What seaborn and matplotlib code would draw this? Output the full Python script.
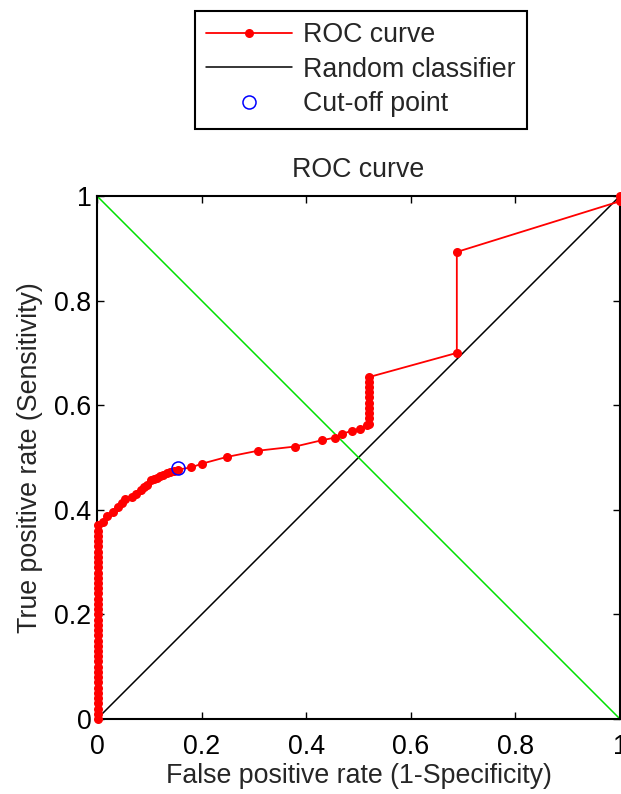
import matplotlib
matplotlib.use("Agg")
import matplotlib.pyplot as plt
import seaborn as sns
import pandas as pd

# ROC curve operating points (false positive rate, true positive rate)
roc_fpr = [
    0.002, 0.002, 0.002, 0.002, 0.002, 0.002, 0.002, 0.002, 0.002, 0.002,
    0.002, 0.002, 0.002, 0.002, 0.002, 0.002, 0.002, 0.002, 0.002, 0.002,
    0.002, 0.002, 0.002, 0.002, 0.002, 0.002, 0.002, 0.002, 0.002, 0.002,
    0.002, 0.002, 0.002, 0.002, 0.002, 0.002, 0.002, 0.002,
    0.012, 0.020, 0.031, 0.041, 0.047, 0.054, 0.066, 0.075, 0.085, 0.090,
    0.095, 0.104, 0.109, 0.114, 0.120, 0.127, 0.133, 0.140, 0.147, 0.155,
    0.180, 0.200, 0.248, 0.308, 0.379, 0.430, 0.455, 0.468, 0.487, 0.503,
    0.516, 0.521, 0.521, 0.521, 0.521, 0.521, 0.521, 0.521, 0.521, 0.521,
    0.521, 0.688, 0.688, 1.000, 1.000,
]
roc_tpr = [
    0.000, 0.010, 0.020, 0.030, 0.040, 0.050, 0.060, 0.070, 0.080, 0.090,
    0.100, 0.110, 0.120, 0.130, 0.140, 0.150, 0.160, 0.170, 0.180, 0.190,
    0.200, 0.210, 0.220, 0.230, 0.240, 0.250, 0.260, 0.270, 0.280, 0.290,
    0.300, 0.310, 0.320, 0.330, 0.340, 0.350, 0.360, 0.371,
    0.377, 0.388, 0.396, 0.406, 0.413, 0.421, 0.425, 0.430, 0.438, 0.443,
    0.447, 0.457, 0.459, 0.461, 0.464, 0.467, 0.470, 0.473, 0.475, 0.477,
    0.481, 0.488, 0.501, 0.513, 0.521, 0.533, 0.538, 0.545, 0.551, 0.555,
    0.562, 0.565, 0.575, 0.585, 0.595, 0.605, 0.615, 0.625, 0.635, 0.645,
    0.654, 0.700, 0.893, 0.990, 1.000,
]

# reference lines
diag_x = [0, 1]
diag_y = [0, 1]
anti_y = [1, 0]

# optimal cut-off
cut_fpr = [0.155]
cut_tpr = [0.479]

tick_vals = [0, 0.2, 0.4, 0.6, 0.8, 1]
tick_labels = ["0", "0.2", "0.4", "0.6", "0.8", "1"]

sns.set_theme(style="white")
plt.rcParams["font.family"] = ["Liberation Sans", "DejaVu Sans"]
FS = 19.3

fig = plt.figure(figsize=(6.21, 7.94), dpi=100)
ax = fig.add_axes([97 / 621, 75 / 794, 523 / 621, 523 / 794])

roc = pd.DataFrame({"fpr": roc_fpr, "tpr": roc_tpr})
sns.lineplot(data=roc, x="fpr", y="tpr", sort=False, estimator=None, ax=ax,
             color="red", linewidth=1.3, marker="o", markersize=6.5,
             markeredgewidth=0, clip_on=False, zorder=3)
sns.lineplot(x=diag_x, y=diag_y, ax=ax, color="black", linewidth=1.1, zorder=2)
sns.lineplot(x=diag_x, y=anti_y, ax=ax, color="#00e000", linewidth=1.1, zorder=2)
sns.lineplot(x=cut_fpr, y=cut_tpr, ax=ax, marker="o", markersize=9.4,
             markerfacecolor="none", markeredgecolor="blue",
             markeredgewidth=1.1, linestyle="none", zorder=4)

ax.set_xlim(0, 1)
ax.set_ylim(0, 1)
ax.set_xticks(tick_vals)
ax.set_xticklabels(tick_labels)
ax.set_yticks(tick_vals)
ax.set_yticklabels(tick_labels)
ax.tick_params(direction="in", top=True, right=True, bottom=True, left=True,
               length=5, width=1, labelsize=FS, colors="black")
ax.tick_params(axis="x", pad=11)
ax.tick_params(axis="y", pad=4)
for sp in ax.spines.values():
    sp.set_color("black")
    sp.set_linewidth(1.5)

ax.set_xlabel("False positive rate (1-Specificity)", fontsize=FS, labelpad=2)
ax.set_ylabel("True positive rate (Sensitivity)", fontsize=FS, labelpad=8)
ax.set_title("ROC curve", fontsize=FS, pad=14)

lines = ax.get_lines()
handles = [lines[0], lines[1], lines[3]]
labels = ["ROC curve", "Random classifier", "Cut-off point"]
leg = fig.legend(handles, labels, loc="upper left",
                 bbox_to_anchor=(195 / 621, 1 - 11 / 794),
                 bbox_transform=fig.transFigure, frameon=True, fancybox=False,
                 edgecolor="black", framealpha=1, borderaxespad=0,
                 borderpad=0.42, handlelength=3.2, handletextpad=0.4,
                 labelspacing=0.32, fontsize=FS, numpoints=1)
leg.get_frame().set_linewidth(1.5)

fig.savefig("out.png", dpi=100)
